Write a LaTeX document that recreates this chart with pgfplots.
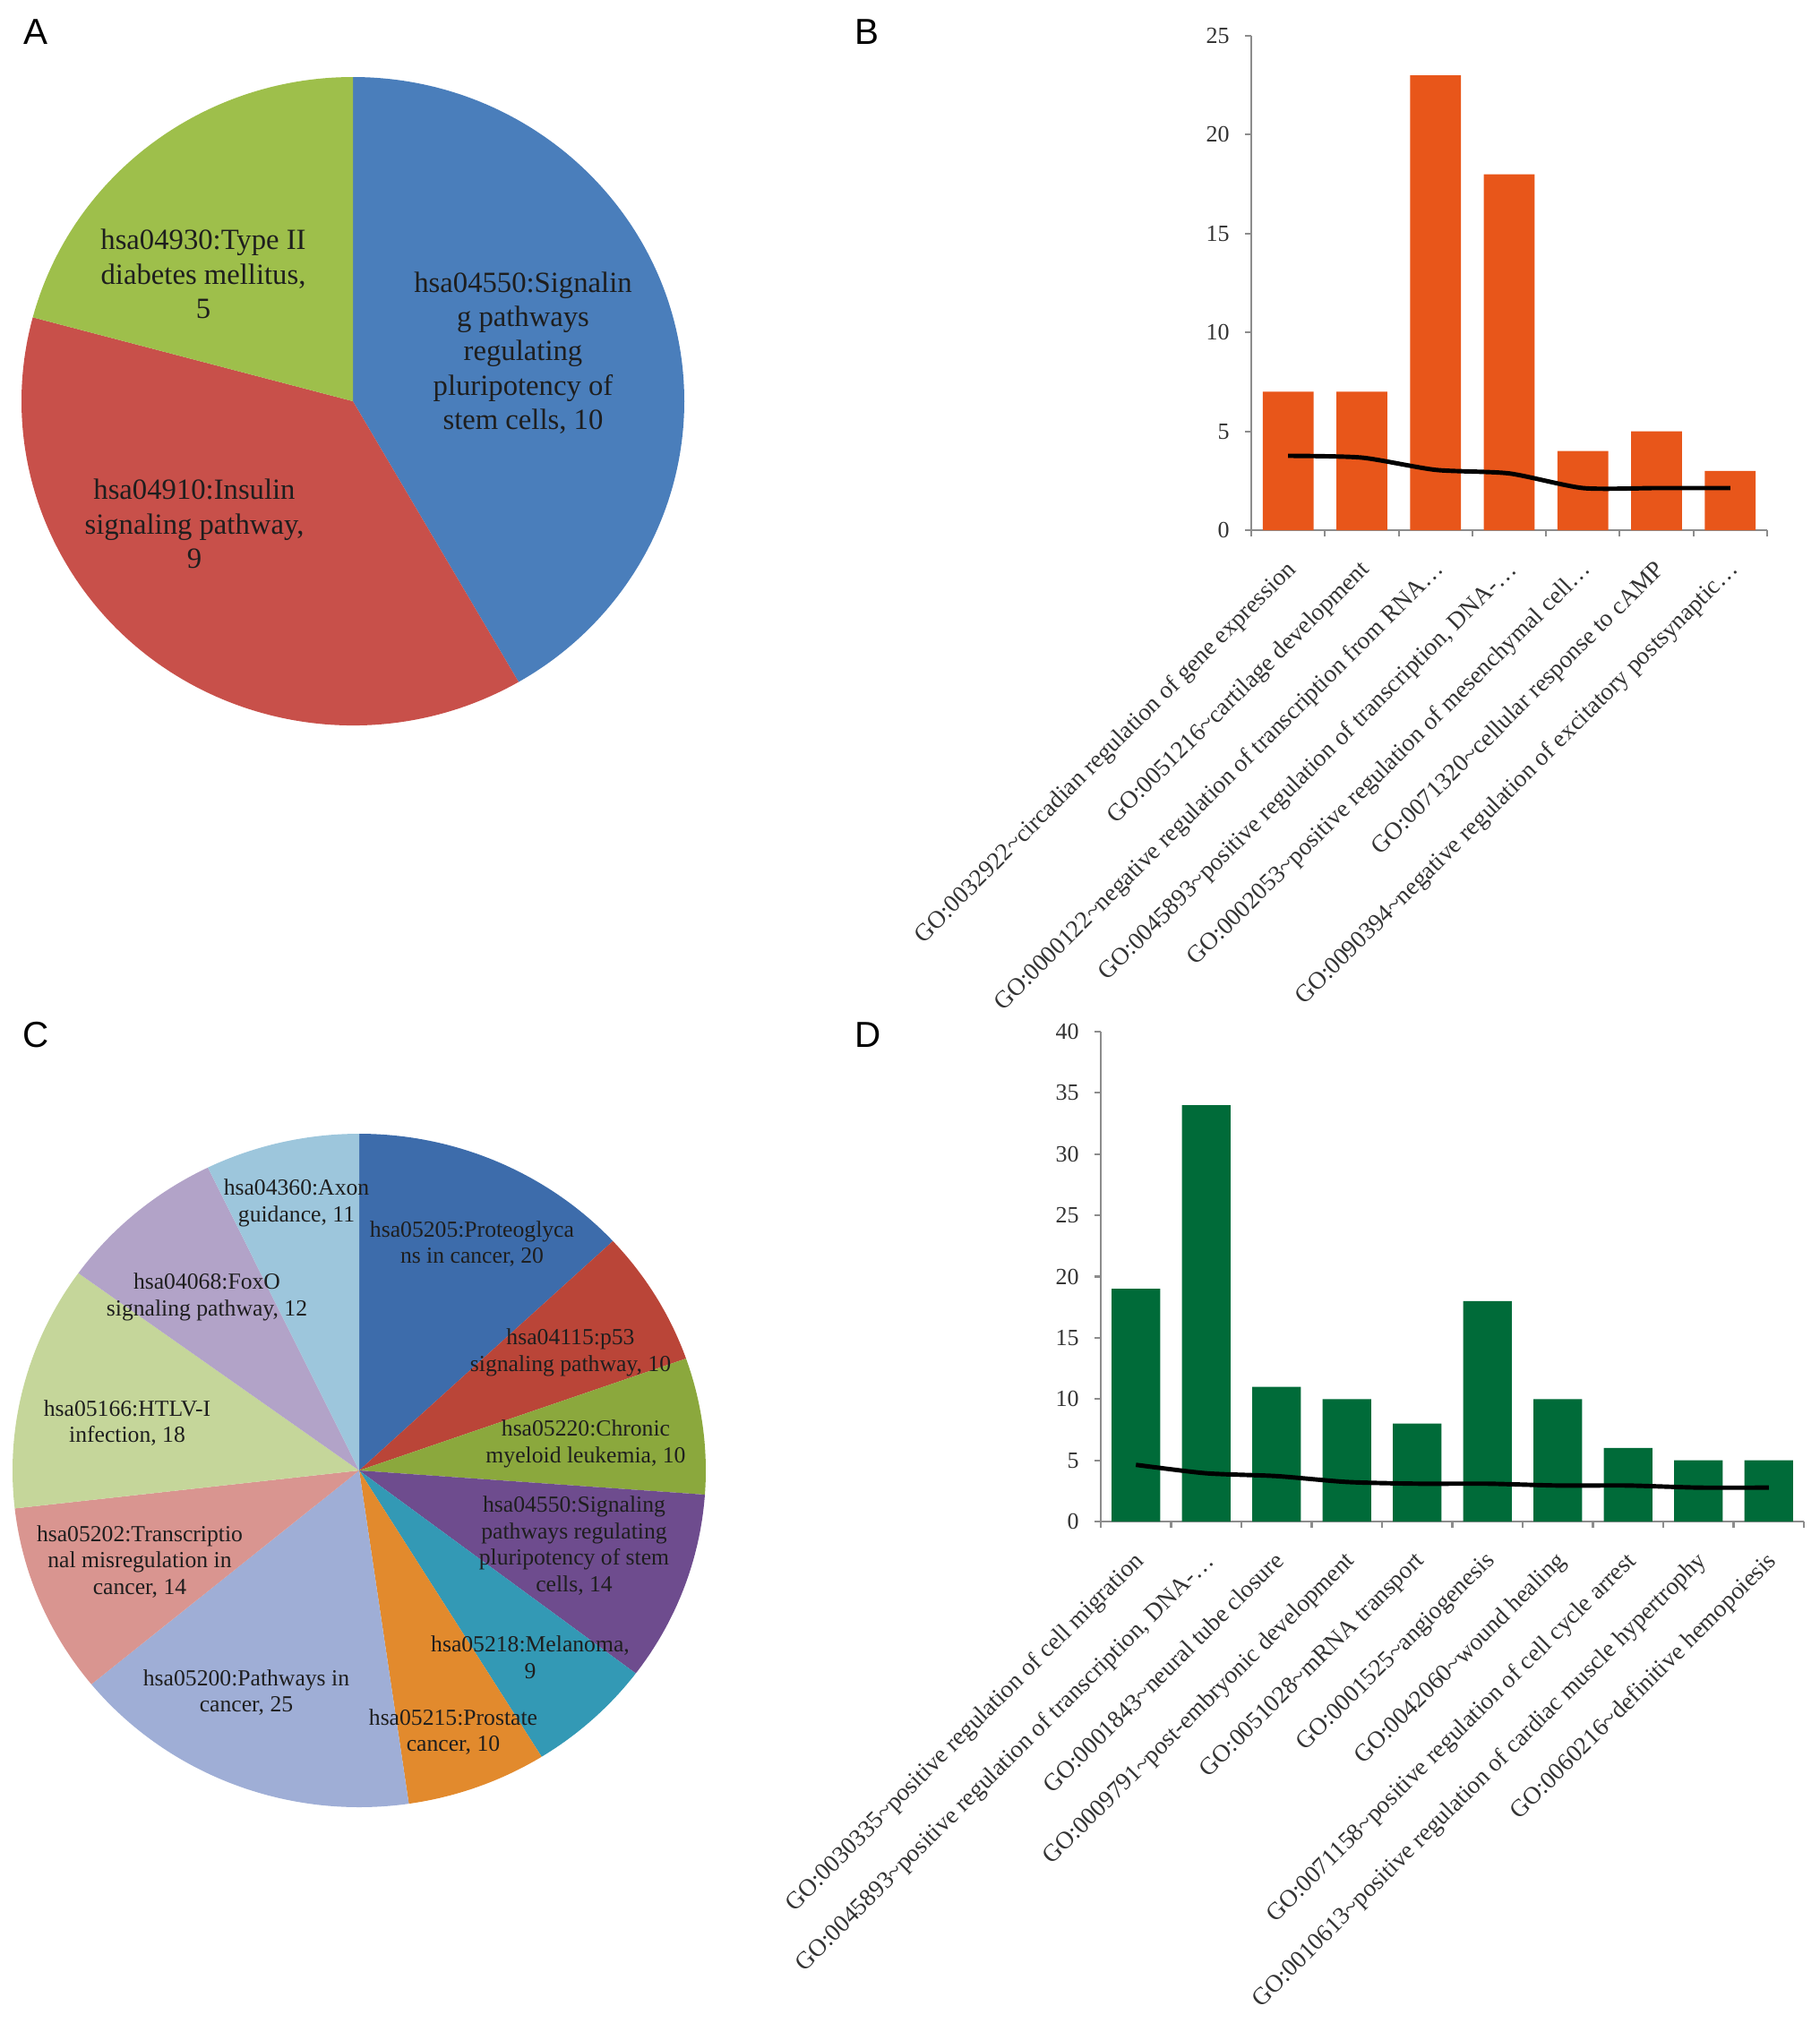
\documentclass[border=0pt]{standalone}
\usepackage{pgfplots}
\pgfplotsset{compat=1.18}
\usepackage{fontspec}
\setmainfont{Liberation Serif}
\newfontfamily\sansf{Liberation Sans}
\newcommand\tl{\textasciitilde}
\definecolor{aBlue}{HTML}{4A7EBB}
\definecolor{aRed}{HTML}{C8504A}
\definecolor{aGreen}{HTML}{9EBF4B}
\definecolor{cA}{HTML}{3D6CAB}
\definecolor{cB}{HTML}{BA4538}
\definecolor{cC}{HTML}{8BA83D}
\definecolor{cD}{HTML}{6E4C8E}
\definecolor{cE}{HTML}{3399B5}
\definecolor{cF}{HTML}{E28A2D}
\definecolor{cG}{HTML}{9FAED6}
\definecolor{cH}{HTML}{D99590}
\definecolor{cI}{HTML}{C5D69A}
\definecolor{cJ}{HTML}{B2A3C8}
\definecolor{cK}{HTML}{9DC6DC}
\definecolor{barOrange}{HTML}{E8561A}
\definecolor{barGreen}{HTML}{006B39}
\definecolor{axgray}{HTML}{8C8C8C}
\definecolor{tickc}{HTML}{333333}
\definecolor{piet}{HTML}{1E1E1E}
\newcommand\numfont{\fontsize{7.4}{8}\selectfont}
\newcommand\lblfont{\fontsize{7.8}{9}\selectfont}
\newcommand\pieAfont{\fontsize{9.3}{10.9}\selectfont}
\newcommand\pieCfont{\fontsize{7.3}{8.5}\selectfont}
\newcommand\letterfont{\sansf\fontsize{11.5}{12}\selectfont}
% slice: #1 cumulative before, #2 value, #3 total, #4 colour, #5 x radius, #6 y radius
\newcommand{\pieslice}[6]{%
  \pgfmathsetmacro\sa{90-(#1)/(#3)*360}%
  \pgfmathsetmacro\ea{90-((#1)+(#2))/(#3)*360}%
  \edef\tmp{\noexpand\fill[#4] (axis cs:0,0) -- ++(\sa:#5 and #6) arc[start angle=\sa, end angle=\ea, x radius=#5, y radius=#6] -- cycle;}%
  \tmp}
\pgfplotsset{barpanel/.style={
  scale only axis, anchor=south west,
  axis lines*=left, axis line style={draw=axgray, line width=0.7pt},
  tick align=outside, major tick length=0.07cm,
  tick style={draw=axgray, line width=0.6pt},
  ymin=0, xticklabels={},
  yticklabel style={font=\numfont, text=tickc, xshift=-0.05cm},
  xticklabel style={font=\lblfont, text=tickc, xshift=-0.04cm, yshift=-0.26cm, rotate=45, anchor=north east, inner sep=1pt},
  extra x tick style={major tick length=0pt, tick style={draw=none}},
  /pgf/number format/assume math mode=true,
  clip=false,
}}
\begin{document}
\begin{tikzpicture}
\path[use as bounding box] (0,0) rectangle (20.31,-22.59);

% ---------------- Panel A ----------------
\begin{axis}[at={(3.94cm,-4.48cm)}, anchor=center, width=7.40cm, height=7.24cm, scale only axis,
  hide axis, xmin=-1, xmax=1, ymin=-1, ymax=1, clip=false]
\pieslice{0}{10}{24}{aBlue}{3.70cm}{3.62cm}
\pieslice{10}{9}{24}{aRed}{3.70cm}{3.62cm}
\pieslice{19}{5}{24}{aGreen}{3.70cm}{3.62cm}
\end{axis}
\node[align=center, font=\pieAfont, text=piet] at (5.84,-3.94) {hsa04550:Signalin\\g pathways\\regulating\\pluripotency of\\stem cells, 10};
\node[align=center, font=\pieAfont, text=piet] at (2.27,-3.06) {hsa04930:Type II\\diabetes mellitus,\\5};
\node[align=center, font=\pieAfont, text=piet] at (2.17,-5.85) {hsa04910:Insulin\\signaling pathway,\\9};

% ---------------- Panel C ----------------
\begin{axis}[at={(4.01cm,-16.42cm)}, anchor=center, width=7.74cm, height=7.52cm, scale only axis,
  hide axis, xmin=-1, xmax=1, ymin=-1, ymax=1, clip=false]
\pieslice{0}{20}{153}{cA}{3.87cm}{3.76cm}
\pieslice{20}{10}{153}{cB}{3.87cm}{3.76cm}
\pieslice{30}{10}{153}{cC}{3.87cm}{3.76cm}
\pieslice{40}{14}{153}{cD}{3.87cm}{3.76cm}
\pieslice{54}{9}{153}{cE}{3.87cm}{3.76cm}
\pieslice{63}{10}{153}{cF}{3.87cm}{3.76cm}
\pieslice{73}{25}{153}{cG}{3.87cm}{3.76cm}
\pieslice{98}{14}{153}{cH}{3.87cm}{3.76cm}
\pieslice{112}{18}{153}{cI}{3.87cm}{3.76cm}
\pieslice{130}{12}{153}{cJ}{3.87cm}{3.76cm}
\pieslice{142}{11}{153}{cK}{3.87cm}{3.76cm}
\end{axis}
\begin{scope}[every node/.style={align=center, font=\pieCfont, text=piet}]
\node at (3.31,-13.43) {hsa04360:Axon\\guidance, 11};
\node at (5.27,-13.89) {hsa05205:Proteoglyca\\ns in cancer, 20};
\node at (2.31,-14.48) {hsa04068:FoxO\\signaling pathway, 12};
\node at (6.37,-15.10) {hsa04115:p53\\signaling pathway, 10};
\node at (1.42,-15.89) {hsa05166:HTLV-I\\infection, 18};
\node at (6.54,-16.12) {hsa05220:Chronic\\myeloid leukemia, 10};
\node at (1.56,-17.44) {hsa05202:Transcriptio\\nal misregulation in\\cancer, 14};
\node at (6.41,-17.26) {hsa04550:Signaling\\pathways regulating\\pluripotency of stem\\cells, 14};
\node at (5.92,-18.51) {hsa05218:Melanoma,\\9};
\node at (2.75,-18.90) {hsa05200:Pathways in\\cancer, 25};
\node at (5.06,-19.34) {hsa05215:Prostate\\cancer, 10};
\end{scope}

% ---------------- Panel B ----------------
\begin{axis}[barpanel, at={(13.97cm,-5.92cm)}, width=5.76cm, height=5.52cm,
  xmin=-0.5, xmax=6.5, ymax=25, ytick={0,5,...,25},
  xtick={-0.5,0.5,...,6.5},
  extra x ticks={0,1,...,6},
  extra x tick labels={
    {GO:0032922\tl circadian regulation of gene expression},
    {GO:0051216\tl cartilage development},
    {GO:0000122\tl negative regulation of transcription from RNA…},
    {GO:0045893\tl positive regulation of transcription, DNA-…},
    {GO:0002053\tl positive regulation of mesenchymal cell…},
    {GO:0071320\tl cellular response to cAMP},
    {GO:0090394\tl negative regulation of excitatory postsynaptic…}}]
\addplot[ybar, bar width=0.69, fill=barOrange, draw=none] coordinates {(0,7) (1,7) (2,23) (3,18) (4,4) (5,5) (6,3)};
\addplot[black, line width=1.4pt, smooth, tension=0.4] coordinates {(0,3.76) (1,3.67) (2,3.05) (3,2.87) (4,2.13) (5,2.13) (6,2.13)};
\end{axis}

% ---------------- Panel D ----------------
\begin{axis}[barpanel, at={(12.29cm,-16.99cm)}, width=7.85cm, height=5.47cm,
  xmin=-0.5, xmax=9.5, ymax=40, ytick={0,5,...,40},
  xtick={-0.5,0.5,...,9.5},
  extra x ticks={0,1,...,9},
  extra x tick labels={
    {GO:0030335\tl positive regulation of cell migration},
    {GO:0045893\tl positive regulation of transcription, DNA-…},
    {GO:0001843\tl neural tube closure},
    {GO:0009791\tl post-embryonic development},
    {GO:0051028\tl mRNA transport},
    {GO:0001525\tl angiogenesis},
    {GO:0042060\tl wound healing},
    {GO:0071158\tl positive regulation of cell cycle arrest},
    {GO:0010613\tl positive regulation of cardiac muscle hypertrophy},
    {GO:0060216\tl definitive hemopoiesis}}]
\addplot[ybar, bar width=0.69, fill=barGreen, draw=none] coordinates {(0,19) (1,34) (2,11) (3,10) (4,8) (5,18) (6,10) (7,6) (8,5) (9,5)};
\addplot[black, line width=1.4pt, smooth, tension=0.4] coordinates {(0,4.63) (1,3.94) (2,3.71) (3,3.23) (4,3.09) (5,3.09) (6,2.94) (7,2.94) (8,2.77) (9,2.77)};
\end{axis}

% ---------------- Panel letters ----------------
\node[font=\letterfont] at (0.40,-0.36) {A};
\node[font=\letterfont] at (9.68,-0.36) {B};
\node[font=\letterfont] at (0.40,-11.56) {C};
\node[font=\letterfont] at (9.69,-11.56) {D};
\end{tikzpicture}
\end{document}
